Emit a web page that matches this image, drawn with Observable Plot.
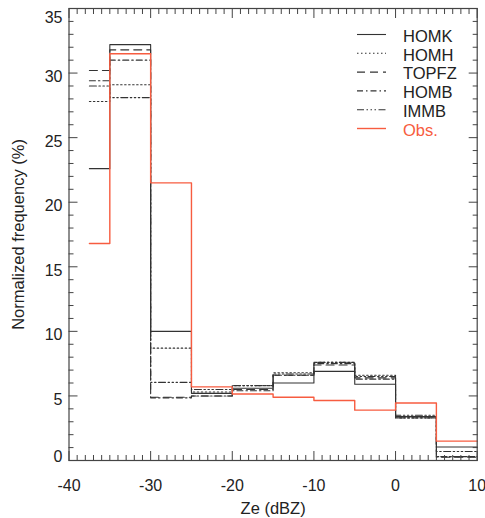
<!DOCTYPE html>
<html>
<head>
<meta charset="utf-8">
<script src="https://cdn.jsdelivr.net/npm/d3@7"></script>
<script src="https://cdn.jsdelivr.net/npm/@observablehq/plot@0.6"></script>
<style>
  html, body { margin: 0; padding: 0; background: white; }
  #chart { width: 485px; height: 518px; }
</style>
</head>
<body>
<div id="chart"></div>
<script>
// Bin edges (dBZ)
const edges = [-37.5, -35, -30, -25, -20, -15, -10, -5, 0, 5, 10];
// Series names
const seriesNames = ["HOMK", "HOMH", "TOPFZ", "HOMB", "IMMB", "Obs."];
// Normalized frequency (%) per bin
const HOMK  = [22.6, 32.2, 10.0, 5.2, 5.6, 6.0, 6.9, 5.9, 3.4, 1.05];
const HOMH  = [27.8, 29.1, 8.7, 5.3, 5.8, 6.8, 7.6, 6.6, 3.3, 0.3];
const TOPFZ = [30.2, 31.8, 4.9, 5.0, 5.5, 6.6, 7.4, 6.4, 3.4, 0.25];
const HOMB  = [29.4, 31.0, 4.85, 5.0, 5.4, 6.6, 7.5, 6.3, 3.3, 0.3];
const IMMB  = [29.0, 28.1, 6.05, 5.5, 5.8, 6.7, 7.6, 6.5, 3.5, 0.7];
const OBS   = [16.8, 31.5, 21.5, 5.7, 5.15, 4.9, 4.65, 3.9, 4.45, 1.5];
// Axis ticks
const xMajor = [-40, -30, -20, -10, 0, 10];
const xMinor = d3.range(-40, 10.001, 1).filter(v => !xMajor.includes(v));
const yMajor = [0, 5, 10, 15, 20, 25, 30, 35];
const yMinor = d3.range(0, 35.001, 1).filter(v => !yMajor.includes(v));
const yMid = [5, 10, 15, 20, 25, 30];

const seriesValues = [HOMK, HOMH, TOPFZ, HOMB, IMMB, OBS];
const styles = {
  "HOMK":  {stroke: "#333", dash: null},
  "HOMH":  {stroke: "#333", dash: "1.5,2.5"},
  "TOPFZ": {stroke: "#333", dash: "8,5"},
  "HOMB":  {stroke: "#333", dash: "6,3,1.5,3"},
  "IMMB":  {stroke: "#333", dash: "7,2.5,1.5,2.5,1.5,2.5,1.5,2.5"},
  "Obs.":  {stroke: "#f75c40", dash: null}
};

function steps(name, vals) {
  return vals.flatMap((v, i) => [
    {s: name, x: edges[i], y: v},
    {s: name, x: edges[i + 1], y: v}
  ]);
}

const lineMarks = seriesNames.map((name, i) =>
  Plot.line(steps(name, seriesValues[i]), {
    x: "x", y: "y",
    stroke: styles[name].stroke,
    strokeWidth: name === "Obs." ? 1.4 : 1.1,
    strokeDasharray: styles[name].dash
  })
);

const axisStroke = "#444";
const blank = () => "";
const MAJ = 9, MIN = 5;

const plot = Plot.plot({
  width: 485,
  height: 518,
  marginLeft: 68.5,
  marginRight: 8.3,
  marginTop: 8,
  marginBottom: 58,
  style: {fontFamily: "Liberation Sans, Arial, Helvetica, sans-serif", fontSize: "16px", color: "#222", background: "white"},
  x: {domain: [-40, 10]},
  y: {domain: [0, 35]},
  marks: [
    ...lineMarks,
    Plot.frame({stroke: axisStroke, strokeWidth: 1.2}),
    // inward ticks, all four sides (outward ticks shifted inward by their length)
    Plot.axisX(xMajor, {anchor: "bottom", tickSize: MAJ, dy: -MAJ, tickFormat: blank, stroke: axisStroke, label: null}),
    Plot.axisX(xMinor, {anchor: "bottom", tickSize: MIN, dy: -MIN, tickFormat: blank, stroke: axisStroke, label: null}),
    Plot.axisX(xMajor, {anchor: "top", tickSize: MAJ, dy: MAJ, tickFormat: blank, stroke: axisStroke, label: null}),
    Plot.axisX(xMinor, {anchor: "top", tickSize: MIN, dy: MIN, tickFormat: blank, stroke: axisStroke, label: null}),
    Plot.axisY(yMajor, {anchor: "left", tickSize: MAJ, dx: MAJ, tickFormat: blank, stroke: axisStroke, label: null}),
    Plot.axisY(yMinor, {anchor: "left", tickSize: MIN, dx: MIN, tickFormat: blank, stroke: axisStroke, label: null}),
    Plot.axisY(yMajor, {anchor: "right", tickSize: MAJ, dx: -MAJ, tickFormat: blank, stroke: axisStroke, label: null}),
    Plot.axisY(yMinor, {anchor: "right", tickSize: MIN, dx: -MIN, tickFormat: blank, stroke: axisStroke, label: null}),
    // tick labels
    Plot.axisX(xMajor, {anchor: "bottom", tickSize: 0, tickPadding: 19, tickFormat: d => String(d), label: null, fontSize: 16, fill: "#222"}),
    Plot.axisY(yMid, {anchor: "left", tickSize: 0, tickPadding: 6.5, dy: 4, tickFormat: d => String(d), label: null, fontSize: 16, fill: "#222"}),
    Plot.axisY([0], {anchor: "left", tickSize: 0, tickPadding: 6.5, dy: -4, tickFormat: d => String(d), label: null, fontSize: 16, fill: "#222"}),
    Plot.axisY([35], {anchor: "left", tickSize: 0, tickPadding: 6.5, dy: 9, tickFormat: d => String(d), label: null, fontSize: 16, fill: "#222"}),
    // axis titles
    Plot.text(["Ze (dBZ)"], {frameAnchor: "bottom", dy: 48, textAnchor: "middle", lineAnchor: "middle", fontSize: 16.5, fill: "#222"}),
    Plot.text(["Normalized frequency (%)"], {frameAnchor: "left", dx: -50, rotate: -90, textAnchor: "middle", lineAnchor: "middle", fontSize: 16.5, fill: "#222"})
  ]
});

// Legend (top right inside the frame)
const svg = d3.select(plot);
const lg = svg.append("g")
  .attr("font-family", "Liberation Sans, Arial, Helvetica, sans-serif")
  .attr("font-size", 16.5)
  .attr("text-anchor", "start");
seriesNames.forEach((name, i) => {
  const cy = 36 + i * 18.8;
  const st = styles[name];
  lg.append("line")
    .attr("x1", 357).attr("x2", 386)
    .attr("y1", cy - 1.5).attr("y2", cy - 1.5)
    .attr("stroke", st.stroke)
    .attr("stroke-width", name === "Obs." ? 1.4 : 1.1)
    .attr("stroke-dasharray", st.dash);
  lg.append("text")
    .attr("x", 403).attr("y", cy)
    .attr("dy", "0.35em")
    .attr("text-anchor", "start")
    .attr("fill", name === "Obs." ? "#f75c40" : "#222")
    .text(name);
});

document.getElementById("chart").appendChild(plot);
</script>
</body>
</html>
